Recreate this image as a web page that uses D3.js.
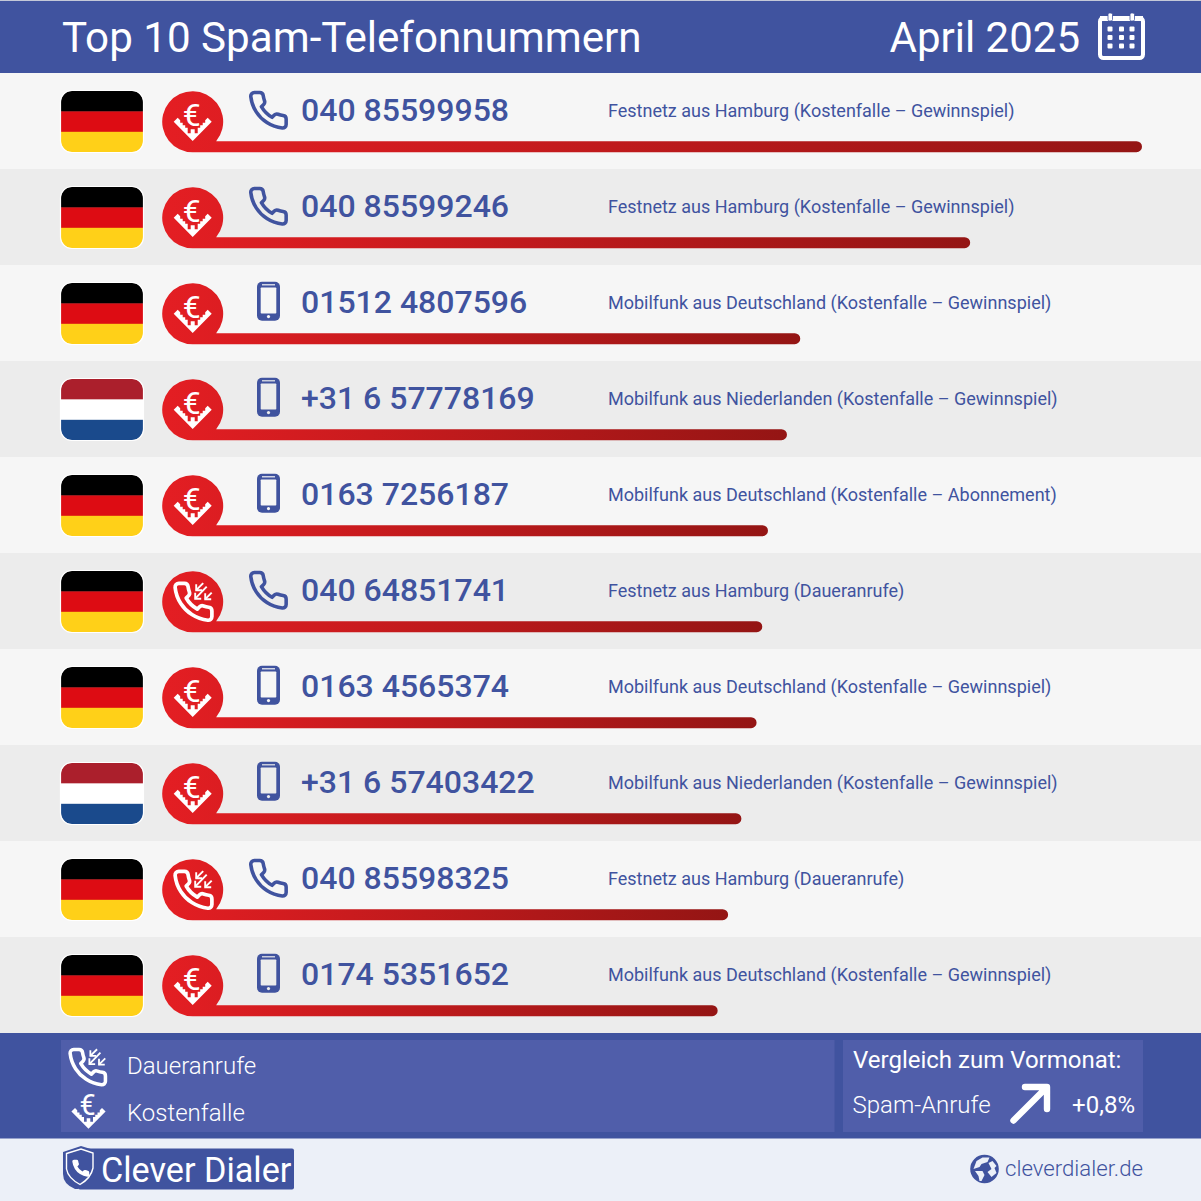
<!DOCTYPE html>
<html>
<head>
<meta charset="utf-8">
<title>Top 10 Spam-Telefonnummern</title>
<script src="https://cdn.jsdelivr.net/npm/d3@7/dist/d3.min.js"></script>
<style>
html, body { margin: 0; padding: 0; background: #fff; }
svg { display: block; font-family: Roboto, sans-serif; }
</style>
</head>
<body>
<div id="chart"></div>
<script>
// chart data
var numbers = ['040 85599958', '040 85599246', '01512 4807596', '+31 6 57778169', '0163 7256187',
    '040 64851741', '0163 4565374', '+31 6 57403422', '040 85598325', '0174 5351652'];
var origins = ['Festnetz aus Hamburg', 'Festnetz aus Hamburg', 'Mobilfunk aus Deutschland', 'Mobilfunk aus Niederlanden', 'Mobilfunk aus Deutschland',
    'Festnetz aus Hamburg', 'Mobilfunk aus Deutschland', 'Mobilfunk aus Niederlanden', 'Festnetz aus Hamburg', 'Mobilfunk aus Deutschland'];
var reasons = ['Kostenfalle – Gewinnspiel', 'Kostenfalle – Gewinnspiel', 'Kostenfalle – Gewinnspiel', 'Kostenfalle – Gewinnspiel', 'Kostenfalle – Abonnement',
    'Daueranrufe', 'Kostenfalle – Gewinnspiel', 'Kostenfalle – Gewinnspiel', 'Daueranrufe', 'Kostenfalle – Gewinnspiel'];
var countries = ['DE', 'DE', 'DE', 'NL', 'DE', 'DE', 'DE', 'NL', 'DE', 'DE'];
var lineTypes = ['fix', 'fix', 'mobile', 'mobile', 'mobile', 'fix', 'mobile', 'mobile', 'fix', 'mobile'];
// relative call volume, first place = 100
var volumes = [100, 81.9, 64, 62.6, 60.6, 60, 59.4, 57.8, 56.4, 55.3];

var titleText = 'Top 10 Spam-Telefonnummern';
var monthText = 'April 2025';
var legendLabels = ['Daueranrufe', 'Kostenfalle'];
var compareTitle = 'Vergleich zum Vormonat:';
var compareLabel = 'Spam-Anrufe';
var compareValue = '+0,8%';

var BLUE = '#40539f';
var PANEL = '#505eaa';
var HANDSET = 'M22 16.92v3a2 2 0 0 1-2.18 2 19.79 19.79 0 0 1-8.63-3.07 19.5 19.5 0 0 1-6-6 19.79 19.79 0 0 1-3.07-8.67A2 2 0 0 1 4.11 2h3a2 2 0 0 1 2 1.72 12.84 12.84 0 0 0 .7 2.81 2 2 0 0 1-.45 2.11L8.09 9.91a16 16 0 0 0 6 6l1.27-1.27a2 2 0 0 1 2.11-.45 12.84 12.84 0 0 0 2.81.7A2 2 0 0 1 22 16.92z';
var flagColors = {
    DE: ['#000000', '#dd0c13', '#ffd018'],
    NL: ['#ab1f2c', '#ffffff', '#1a4a8c']
};

var svg = d3.select('#chart').append('svg').attr('width', 1201).attr('height', 1201);
var defs = svg.append('defs');

var rowScale = d3.scaleBand().domain(d3.range(numbers.length)).range([73, 1033]);
var barScale = d3.scaleLinear().domain([0, 100]).range([192.7, 1142]);

var grad = defs.append('linearGradient').attr('id', 'barGrad');
grad.append('stop').attr('offset', '0').attr('stop-color', '#e41e23');
grad.append('stop').attr('offset', '1').attr('stop-color', '#941514');

// backgrounds
svg.append('rect').attr('width', 1201).attr('height', 1201).attr('fill', '#ecf0f8');
svg.append('rect').attr('y', 1).attr('width', 1201).attr('height', 72).attr('fill', BLUE);
svg.append('rect').attr('width', 1201).attr('height', 1).attr('fill', '#c4c8d8');

function addText(parent, str, x, y, size, weight, fill, anchor) {
    return parent.append('text').attr('x', x).attr('y', y)
        .attr('font-size', size).attr('font-weight', weight).attr('fill', fill)
        .attr('text-anchor', anchor || 'start').text(str);
}

// white funnel with stepped inner edge, centred on 0,0
function euroTrap(parent, color, scale) {
    var g = parent.append('g').attr('transform', 'scale(' + scale + ')');
    var right = [[15, -4], [12.5, -1.5], [12.5, 1], [10, 1], [10, 3.5], [7.5, 3.5], [7.5, 6], [5, 6], [5, 11.5], [2, 11.5], [2, 7.5]];
    var left = right.map(function (p) { return [-p[0], p[1]]; }).reverse();
    var pts = [[-19, 0], [0, 19.3], [19, 0]].concat(right, left);
    g.append('polygon').attr('points', pts.join(' ')).attr('fill', color);
    g.append('text').attr('x', -1).attr('y', 4).attr('text-anchor', 'middle')
        .attr('font-size', 32).attr('font-weight', 400).attr('fill', color).text('€');
}

// handset with incoming arrows, centred on 0,0
function callTrap(parent, color, scale) {
    var g = parent.append('g').attr('transform', 'scale(' + scale + ')');
    g.append('path').attr('d', HANDSET).attr('transform', 'translate(-21.5,-22) scale(1.85)')
        .attr('fill', 'none').attr('stroke', color).attr('stroke-width', 2).attr('stroke-linejoin', 'round');
    [[10.5, -18.5, 3.5, -11.5], [19, -9, 12.5, -2.5], [14, -15, 2.5, -3]].forEach(function (a) {
        g.append('line').attr('x1', a[0]).attr('y1', a[1]).attr('x2', a[2]).attr('y2', a[3])
            .attr('stroke', color).attr('stroke-width', 1.9);
        g.append('path').attr('d', 'M' + a[2] + ' ' + (a[3] - 6) + 'V' + a[3] + 'H' + (a[2] + 6))
            .attr('fill', 'none').attr('stroke', color).attr('stroke-width', 1.9);
    });
}

// rows
var rows = svg.selectAll('g.row').data(numbers).enter().append('g')
    .attr('class', 'row')
    .attr('transform', function (d, i) { return 'translate(0,' + rowScale(i) + ')'; });

rows.append('rect').attr('width', 1201).attr('height', rowScale.bandwidth())
    .attr('fill', function (d, i) { return i % 2 ? '#ececec' : '#f6f6f6'; });

rows.each(function (d, i) {
    var row = d3.select(this);
    var rowBg = i % 2 ? '#ececec' : '#f6f6f6';

    // flag
    var flagId = 'flagClip' + i;
    defs.append('clipPath').attr('id', flagId).append('rect')
        .attr('x', 61).attr('y', 18).attr('width', 82).attr('height', 61).attr('rx', 11);
    var stripes = flagColors[countries[i]];
    var flag = row.append('g').attr('clip-path', 'url(#' + flagId + ')');
    stripes.forEach(function (c, k) {
        flag.append('rect').attr('x', 61).attr('y', 18 + k * 20.4).attr('width', 82).attr('height', 20.8).attr('fill', c);
    });
    row.append('rect').attr('x', 60.5).attr('y', 17.5).attr('width', 83).attr('height', 62).attr('rx', 11.5)
        .attr('fill', 'none').attr('stroke', '#fff').attr('stroke-width', 1.2);

    // bubble and bar are one shape
    var cx = 192.7, cy = 48.7, r = 30.5, barH = 11;
    var end = barScale(volumes[i]);
    var yb = cy + r, yt = yb - barH;
    var dx = Math.sqrt(r * r - (yt - cy) * (yt - cy));
    row.append('path').attr('fill', 'url(#barGrad)').attr('d',
        'M' + cx + ' ' + yb + 'L' + (end - barH / 2) + ' ' + yb +
        'A' + barH / 2 + ' ' + barH / 2 + ' 0 0 0 ' + (end - barH / 2) + ' ' + yt +
        'L' + (cx + dx) + ' ' + yt +
        'A' + r + ' ' + r + ' 0 1 0 ' + cx + ' ' + yb + 'Z');

    var badge = row.append('g').attr('transform', 'translate(' + cx + ',' + cy + ')');
    if (reasons[i] === 'Daueranrufe') {
        callTrap(badge, '#fff', 1);
    } else {
        euroTrap(badge, '#fff', 1);
    }

    // line type icon
    if (lineTypes[i] === 'fix') {
        row.append('path').attr('d', HANDSET).attr('transform', 'translate(247,16) scale(1.78)')
            .attr('fill', 'none').attr('stroke', BLUE).attr('stroke-width', 2).attr('stroke-linejoin', 'round');
    } else {
        row.append('rect').attr('x', 257).attr('y', 16.7).attr('width', 23).attr('height', 39).attr('rx', 5).attr('fill', BLUE);
        row.append('rect').attr('x', 260.7).attr('y', 22.5).attr('width', 15.6).attr('height', 26).attr('rx', 0.8).attr('fill', rowBg);
        row.append('rect').attr('x', 262).attr('y', 19.2).attr('width', 13).attr('height', 1.2).attr('fill', rowBg);
        row.append('circle').attr('cx', 268.5).attr('cy', 51.6).attr('r', 1.6).attr('fill', rowBg);
    }

    addText(row, d, 301, 47.7, 32, 500, BLUE);
    addText(row, origins[i] + ' (' + reasons[i] + ')', 608, 44, 18, 400, BLUE);
});

// header
addText(svg, titleText, 62, 52, 42.15, 400, '#fff');
addText(svg, monthText, 1080, 52, 42, 400, '#fff', 'end');

var cal = svg.append('g');
cal.append('rect').attr('x', 1100).attr('y', 18).attr('width', 43).attr('height', 40).attr('rx', 3.5)
    .attr('fill', 'none').attr('stroke', '#fff').attr('stroke-width', 4);
cal.append('rect').attr('x', 1100).attr('y', 16).attr('width', 43).attr('height', 5).attr('fill', '#fff');
[1110, 1132].forEach(function (x) {
    cal.append('rect').attr('x', x - 2).attr('y', 13).attr('width', 4.5).attr('height', 8)
        .attr('rx', 1.5).attr('fill', '#fff').attr('stroke', BLUE).attr('stroke-width', 0.8);
});
[29, 37.5, 46].forEach(function (y) {
    [1110, 1121.5, 1132].forEach(function (x) {
        cal.append('rect').attr('x', x - 2.5).attr('y', y - 2.5).attr('width', 5).attr('height', 5).attr('rx', 1).attr('fill', '#fff');
    });
});

// legend band
svg.append('rect').attr('y', 1033).attr('width', 1201).attr('height', 105.5).attr('fill', BLUE);
svg.append('rect').attr('x', 61).attr('y', 1040).attr('width', 773.5).attr('height', 92).attr('fill', PANEL);
svg.append('rect').attr('x', 843).attr('y', 1040).attr('width', 300).attr('height', 92).attr('fill', PANEL);

callTrap(svg.append('g').attr('transform', 'translate(87,1067)'), '#fff', 0.96);
euroTrap(svg.append('g').attr('transform', 'translate(88.5,1111.5)'), '#fff', 0.9);
addText(svg, legendLabels[0], 127, 1073.7, 24, 300, '#fff');
addText(svg, legendLabels[1], 127, 1120.7, 24, 300, '#fff');

addText(svg, compareTitle, 853, 1068, 24, 400, '#fff');
addText(svg, compareLabel, 852.5, 1113, 24, 300, '#fff');
addText(svg, compareValue, 1135, 1113, 24, 400, '#fff', 'end');
svg.append('path').attr('d', 'M1013.5 1120.5L1046 1088M1025 1087H1047V1109')
    .attr('fill', 'none').attr('stroke', '#fff').attr('stroke-width', 6.4).attr('stroke-linecap', 'round').attr('stroke-linejoin', 'round');

// footer logo
svg.append('rect').attr('x', 78).attr('y', 1148.5).attr('width', 216).attr('height', 41).attr('rx', 2).attr('fill', BLUE);
svg.append('path').attr('d', 'M63 1152L81 1146L94 1150V1172Q90 1182 78 1189H75Q63 1184 63 1174Z').attr('fill', BLUE);
svg.append('path').attr('d', 'M66.5 1153.5L81 1149L93 1153V1168Q91 1178 80 1184.5Q68 1178 66.5 1169Z')
    .attr('fill', 'none').attr('stroke', '#fff').attr('stroke-width', 1.4);
svg.append('path').attr('d', HANDSET).attr('transform', 'translate(70.5,1158) scale(0.85)')
    .attr('fill', '#fff');
addText(svg, 'Clever Dialer', 101, 1181.5, 34.2, 400, '#fff');

// site link with globe
var globe = svg.append('g').attr('transform', 'translate(984.5,1169)');
globe.append('circle').attr('r', 14.3).attr('fill', BLUE);
globe.append('path').attr('fill', '#ecf0f8')
    .attr('d', 'M-8 -8L-2 -11.5L5 -11.5L3 -7L-3 -5L-5 -2L-11 0ZM-9.5 2L-2 2L0 6L-3 12L-5 12L-6 7ZM4 -6L8 -8L12 -3L10 -1L12 4L7 8L3 3L7 0Z');
addText(svg, 'cleverdialer.de', 1005, 1175.7, 22.2, 300, BLUE);
</script>
</body>
</html>
